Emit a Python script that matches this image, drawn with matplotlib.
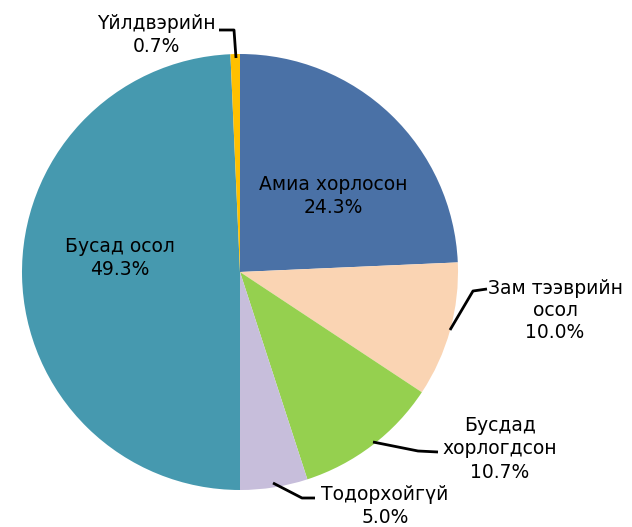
import matplotlib
matplotlib.use("Agg")
import matplotlib.pyplot as plt

categories = ["Амиа хорлосон", "Зам тээврийн\nосол", "Бусдад\nхорлогдсон", "Тодорхойгүй", "Бусад осол", "Үйлдвэрийн"]
values = [24.3, 10.0, 10.7, 5.0, 49.3, 0.7]
colors = ["#4A71A6", "#FAD4B3", "#95D04F", "#C7BEDB", "#4699AF", "#FFC000"]

plt.rcParams['font.family'] = ['DejaVu Sans']

fig = plt.figure(figsize=(6.32, 5.27), dpi=100)
ax = fig.add_axes([0, 0, 1, 1])

cx, cy, r = 240, 255, 218
ax.pie(values, colors=colors, startangle=90, counterclock=False,
       center=(cx, cy), radius=r, frame=True,
       wedgeprops=dict(linewidth=0))
ax.set_xlim(0, 632)
ax.set_ylim(0, 527)
ax.set_aspect('equal')
ax.axis('off')

fs = 13.5
def lab(i, x, y, ls=1.3):
    ax.text(x, y, f"{categories[i]}\n{values[i]:.1f}%", ha='center', va='center',
            fontsize=fs, linespacing=ls, color='black')

# inside labels
lab(0, 333, 527 - 196)
lab(4, 120, 527 - 258)
# outside labels
lab(1, 555, 527 - 310, 1.2)
lab(2, 500, 527 - 449)
lab(3, 385, 527 - 506)
lab(5, 156, 527 - 35)

lk = dict(color='black', lw=2, solid_capstyle='butt')
ax.plot([450, 473, 487], [527 - 330, 527 - 291, 527 - 289], **lk)
ax.plot([373, 418, 438], [527 - 442, 527 - 451, 527 - 452], **lk)
ax.plot([273, 302, 315], [527 - 483, 527 - 498, 527 - 498], **lk)
ax.plot([219, 234, 236], [527 - 30, 527 - 30, 527 - 58], **lk)

fig.savefig("out.png", dpi=100)
